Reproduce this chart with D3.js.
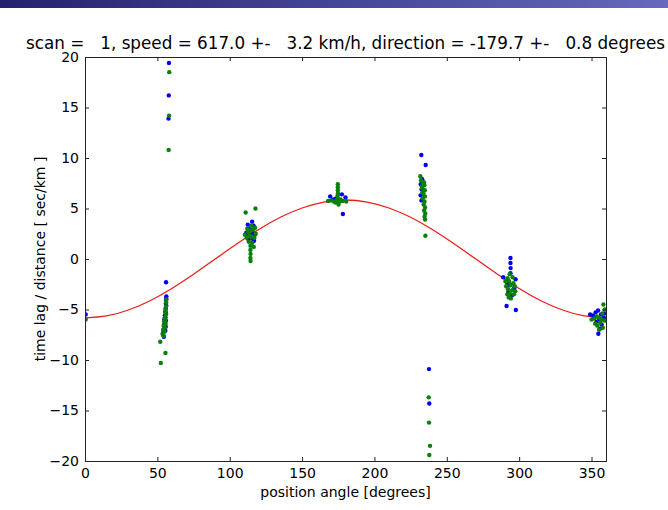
<!DOCTYPE html>
<html><head><meta charset="utf-8">
<script src="https://cdn.jsdelivr.net/npm/d3@7"></script>
<style>
html,body{margin:0;padding:0;background:#fff;}
svg{display:block;font-family:"DejaVu Sans",sans-serif;}
</style></head>
<body><div id="chart"></div>
<script>
const titleText = "scan =   1, speed = 617.0 +-   3.2 km/h, direction = -179.7 +-   0.8 degrees";
const xLabel = "position angle [degrees]";
const yLabel = "time lag / distance [ sec/km ]";
const xTicks = [0, 50, 100, 150, 200, 250, 300, 350];
const yTicks = [-20, -15, -10, -5, 0, 5, 10, 15, 20];

// fitted curve, read at 15 degree steps
const curveAngles = [0,15,30,45,60,75,90,105,120,135,150,165,180,195,210,225,240,255,270,285,300,315,330,345,360];
const curveLag = [-5.84,-5.64,-5.05,-4.13,-2.92,-1.51,0.0,1.51,2.92,4.13,5.05,5.64,5.84,5.64,5.05,4.13,2.92,1.51,0.0,-1.51,-2.92,-4.13,-5.05,-5.64,-5.84];

// blue measurements [angle, lag]
const bluePoints = [
 [0.5,-5.5],
 [58.0,19.4],[57.9,16.2],[57.7,13.9],
 [56.0,-2.3],[56.2,-3.7],[56.1,-3.9],[56.0,-4.1],[55.9,-4.4],[56.1,-4.6],[55.7,-4.9],[55.5,-5.2],[56.0,-5.4],[55.2,-5.6],[55.6,-5.8],[54.8,-6.0],[55.9,-6.1],[55.3,-6.3],[54.6,-6.5],[55.8,-6.7],[54.9,-6.9],[54.2,-7.2],[55.5,-7.1],[53.9,-7.5],[54.5,-7.7],
 [112.5,3.4],[115.5,3.7],[116.5,3.3],[113.5,3.0],[114.8,2.9],[116.0,2.6],[112.0,2.3],[117.2,2.4],[113.0,1.9],[115.8,2.0],[111.5,2.6],[114.2,2.4],[116.8,1.8],
 [169.4,6.2],[177.5,6.4],[180.0,6.1],[178.2,4.45],[173.5,6.0],[175.5,5.8],[171.5,5.9],
 [232.4,10.3],[235.4,9.3],[232.0,7.4],[232.6,6.9],[231.9,6.3],[232.5,5.8],[233.0,7.9],
 [237.7,-10.9],[237.9,-14.3],
 [294.0,0.1],[294.0,-0.4],[294.1,-0.9],[294.0,-1.4],[289.0,-1.8],[297.5,-2.0],[291.5,-2.3],[296.5,-2.9],[292.5,-3.3],[295.0,-3.6],[291.3,-4.65],[297.7,-5.05],[293.0,-2.6],
 [349.0,-5.5],[351.0,-5.6],[352.8,-5.3],[354.5,-5.1],[356.5,-5.5],[358.5,-5.8],[355.5,-6.0],[353.5,-6.2],[357.0,-6.5],[354.7,-7.4],[355.8,-6.9],[359.0,-5.4]
];
// green measurements [angle, lag]
const greenPoints = [
 [0.5,-6.0],
 [58.2,18.5],[58.1,14.2],[57.8,10.8],
 [56.2,-4.0],[56.1,-4.3],[56.0,-4.7],[55.8,-5.0],[55.6,-5.3],[55.9,-5.5],[55.1,-5.8],[55.4,-6.0],[54.7,-6.2],[55.7,-6.4],[54.4,-6.6],[55.2,-6.8],[54.0,-7.0],[54.8,-7.2],[53.6,-7.4],[54.3,-7.6],[52.0,-8.2],[55.6,-9.3],[52.4,-10.3],
 [111.0,4.6],[117.8,5.0],[110.5,2.4],[111.8,2.1],[112.8,2.7],[113.6,2.3],[114.5,2.8],[115.2,2.2],[116.2,2.9],[117.0,2.1],[118.0,2.5],[113.2,1.7],[115.6,1.6],[116.6,1.2],[114.3,1.3],[114.3,0.9],[114.4,0.5],[114.3,0.1],[114.4,-0.2],[112.2,3.0],[117.5,3.1],[115.0,3.3],
 [174.7,7.4],[174.7,7.1],[174.7,6.8],[174.8,6.5],[174.6,6.3],[174.7,6.0],[168.0,5.75],[170.0,5.8],[172.0,5.7],[174.0,5.8],[176.0,5.7],[178.0,5.75],[180.5,5.7],[175.2,5.4],[176.5,5.9],[173.0,5.6],
 [231.7,8.2],[232.2,7.8],[233.6,7.5],[234.5,7.3],[233.0,7.0],[234.8,6.8],[233.8,6.5],[234.9,6.2],[233.3,6.0],[234.6,5.7],[234.0,5.4],[235.0,5.1],[234.3,4.8],[235.1,4.5],[234.6,4.2],[235.0,3.9],[235.2,2.3],[233.1,6.6],[232.8,7.2],[234.2,7.6],
 [237.5,-13.7],[237.7,-16.2],[238.4,-18.5],[237.9,-19.4],
 [293.5,-1.5],[292.0,-1.9],[295.5,-1.8],[290.5,-2.2],[293.0,-2.2],[296.0,-2.4],[291.0,-2.7],[294.0,-2.6],[297.0,-2.7],[292.3,-3.0],[295.2,-3.1],[293.5,-3.4],[296.4,-3.5],[292.8,-3.8],[294.3,-3.9],[291.8,-3.5],[297.3,-3.2],
 [358.2,-4.5],[350.0,-6.0],[351.8,-5.9],[353.5,-5.7],[355.0,-5.8],[356.8,-6.0],[358.8,-6.1],[352.5,-6.4],[354.0,-6.6],[356.0,-6.3],[357.8,-6.8],[355.2,-7.0],[359.2,-5.0],[357.5,-5.4]
];

const W = 668, H = 510;
const m = {left: 85, right: 62, top: 57, bottom: 49};
const svg = d3.select("#chart").append("svg").attr("width", W).attr("height", H);

// header band
const defs = svg.append("defs");
const grad = defs.append("linearGradient").attr("id","hdr");
grad.append("stop").attr("offset","0%").attr("stop-color","#22226e");
grad.append("stop").attr("offset","100%").attr("stop-color","#6868bc");
svg.append("rect").attr("x",0).attr("y",0).attr("width",W).attr("height",8).attr("fill","url(#hdr)");

const x = d3.scaleLinear().domain([0, 360]).range([m.left, W - m.right]);
const y = d3.scaleLinear().domain([-20, 20]).range([H - m.bottom, m.top]);

const clipId = "plotclip";
defs.append("clipPath").attr("id", clipId).append("rect")
  .attr("x", m.left).attr("y", m.top).attr("width", x(360) - m.left).attr("height", y(-20) - y(20));

const plot = svg.append("g").attr("clip-path", `url(#${clipId})`);

// curve
const line = d3.line().x((d,i) => x(curveAngles[i])).y(d => y(d)).curve(d3.curveNatural);
plot.append("path").datum(curveLag).attr("d", line).attr("fill","none").attr("stroke","#e8201c").attr("stroke-width",1.3);

plot.selectAll("circle.b").data(bluePoints).join("circle").attr("class","b")
  .attr("cx", d => x(d[0])).attr("cy", d => y(d[1])).attr("r", 2.2).attr("fill", "#0000f0");
plot.selectAll("circle.g").data(greenPoints).join("circle").attr("class","g")
  .attr("cx", d => x(d[0])).attr("cy", d => y(d[1])).attr("r", 2.2).attr("fill", "#0a800a");

// axes: ticks inward
const fmt = d => (d < 0 ? "\u2212" + Math.abs(d) : "" + d);
const axB = svg.append("g").attr("transform", `translate(0,${y(-20)})`)
  .call(d3.axisBottom(x).tickValues(xTicks).tickSize(-4).tickPadding(7).tickFormat(fmt));
const axT = svg.append("g").attr("transform", `translate(0,${y(20)})`)
  .call(d3.axisTop(x).tickValues(xTicks).tickSize(-4).tickFormat(""));
const axL = svg.append("g").attr("transform", `translate(${x(0)},0)`)
  .call(d3.axisLeft(y).tickValues(yTicks).tickSize(-4).tickPadding(6).tickFormat(fmt));
const axR = svg.append("g").attr("transform", `translate(${x(360)},0)`)
  .call(d3.axisRight(y).tickValues(yTicks).tickSize(-4).tickFormat(""));
[axB, axT, axL, axR].forEach(a => {
  a.selectAll(".domain").attr("stroke", "#222").attr("stroke-width", 1);
  a.selectAll(".tick line").attr("stroke", "#222");
  a.selectAll("text").attr("font-size", 14).attr("font-family", "DejaVu Sans, sans-serif").attr("fill", "#000");
});

svg.append("text").attr("x", (x(0) + x(360)) / 2).attr("y", 497).attr("text-anchor","middle")
  .attr("font-size", 14).text(xLabel);
svg.append("text").attr("transform", `translate(45,${(y(20)+y(-20))/2}) rotate(-90)`).attr("text-anchor","middle")
  .attr("font-size", 14).text(yLabel);
svg.append("text").attr("x", (x(0) + x(360)) / 2).attr("y", 49).attr("text-anchor","middle")
  .attr("font-size", 16.8).style("white-space","pre").text(titleText);
</script></body></html>
